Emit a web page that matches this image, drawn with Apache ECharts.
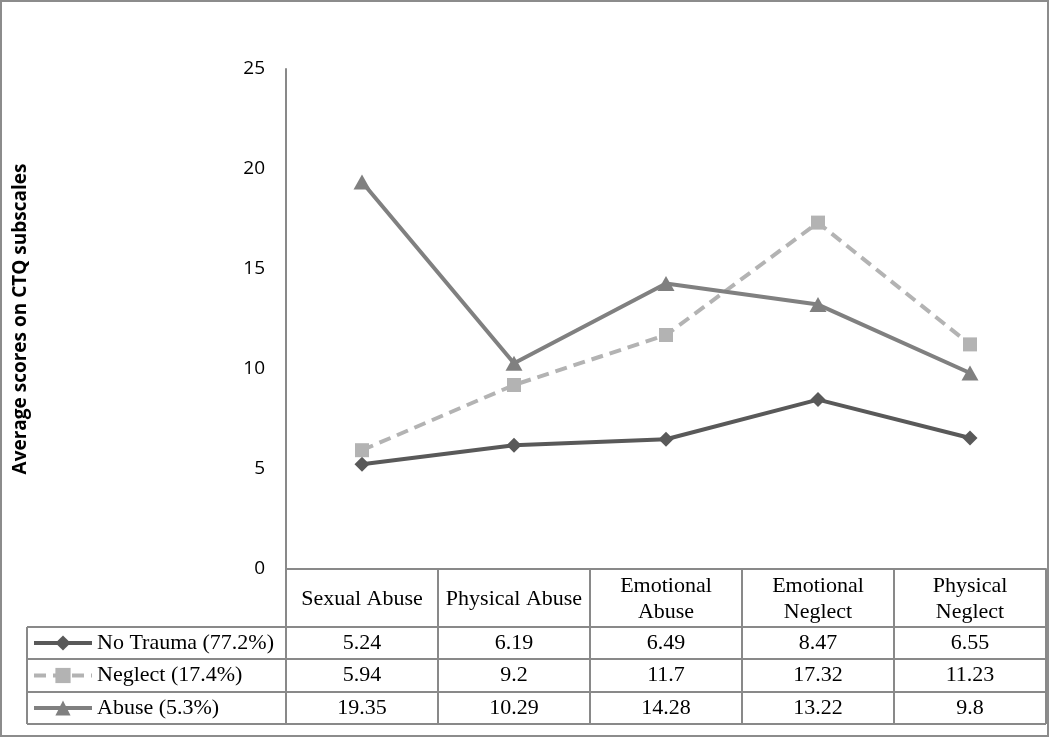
<!DOCTYPE html>
<html>
<head>
<meta charset="utf-8">
<script src="https://cdn.jsdelivr.net/npm/echarts@6/dist/echarts.min.js"></script>
<style>
  html, body { margin: 0; padding: 0; background: #fff; }
  #chart { width: 1050px; height: 738px; }
</style>
</head>
<body>
<div id="chart"></div>
<script>
// ---- data ----
var categories = ['Sexual Abuse', 'Physical Abuse', 'Emotional\nAbuse', 'Emotional\nNeglect', 'Physical\nNeglect'];
var seriesNames = ['No Trauma (77.2%)', 'Neglect (17.4%)', 'Abuse (5.3%)'];
var noTrauma = [5.24, 6.19, 6.49, 8.47, 6.55];
var neglect = [5.94, 9.2, 11.7, 17.32, 11.23];
var abuse = [19.35, 10.29, 14.28, 13.22, 9.8];
var yTicks = [0, 5, 10, 15, 20, 25];
var yTitle = 'Average scores on CTQ subscales';

// ---- layout ----
var GRID_L = 286, GRID_T = 69, GRID_W = 760, GRID_H = 500;
var AXIS_Y = GRID_T + GRID_H;           // 569
var HEADER_B = 627;
var ROW_LINES = [627, 659, 692, 724];
var TABLE_L = 27, TABLE_R = GRID_L + GRID_W;
var LINE_COLOR = '#898989';
var SERIF = '"Liberation Serif", "Times New Roman", serif';
var SANS = '"Open Sans", sans-serif';

var allValues = [noTrauma, neglect, abuse];
var colors = ['#595959', '#b3b3b3', '#808080'];
var symbols = ['diamond', 'rect', 'triangle'];
var symbolSizes = [[15, 15], [14, 14], [17, 15]];
var lineTypes = ['solid', [12, 7], 'solid'];

var rowCenters = [];
for (var i = 0; i < 3; i++) rowCenters.push((ROW_LINES[i] + ROW_LINES[i + 1]) / 2);

var xAxes = [{
  type: 'category',
  gridIndex: 0,
  data: categories,
  boundaryGap: true,
  position: 'bottom',
  axisLine: { show: true, lineStyle: { color: LINE_COLOR, width: 2 } },
  axisTick: { show: true, length: ROW_LINES[3] - AXIS_Y, lineStyle: { color: LINE_COLOR, width: 2 } },
  axisLabel: {
    margin: (AXIS_Y + HEADER_B) / 2 - AXIS_Y + 1,
    verticalAlign: 'middle',
    color: '#000',
    fontFamily: SERIF,
    fontSize: 22,
    lineHeight: 26,
    interval: 0
  },
  splitLine: { show: false }
}];
for (var r = 0; r < 3; r++) {
  xAxes.push({
    type: 'category',
    gridIndex: 0,
    position: 'bottom',
    offset: rowCenters[r] - AXIS_Y,
    data: allValues[r].map(function (v) { return String(v); }),
    boundaryGap: true,
    axisLine: { show: false },
    axisTick: { show: false },
    splitLine: { show: false },
    axisLabel: {
      margin: 0,
      verticalAlign: 'middle',
      color: '#000',
      fontFamily: SERIF,
      fontSize: 22,
      interval: 0
    }
  });
}

var series = [];
for (var s = 0; s < 3; s++) {
  series.push({
    name: seriesNames[s],
    type: 'line',
    xAxisIndex: 0,
    yAxisIndex: 0,
    data: allValues[s],
    symbol: symbols[s],
    symbolSize: symbolSizes[s],
    showSymbol: true,
    itemStyle: { color: colors[s] },
    lineStyle: { color: colors[s], width: 4, type: lineTypes[s] },
    emphasis: { disabled: true },
    z: 3 + (s === 2 ? 1 : 0)
  });
}

var legends = [];
for (var l = 0; l < 3; l++) {
  legends.push({
    data: [seriesNames[l]],
    left: 32,
    top: rowCenters[l] - 11,
    padding: 0,
    itemWidth: 58,
    itemHeight: 19,
    itemGap: 6,
    selectedMode: false,
    lineStyle: { width: 4 },
    textStyle: { color: '#000', fontFamily: SERIF, fontSize: 22, lineHeight: 22 }
  });
}

var graphics = [
  { type: 'rect', shape: { x: 1, y: 1, width: 1047, height: 735 }, style: { fill: 'none', stroke: '#8c8c8c', lineWidth: 2 }, silent: true }
];
ROW_LINES.forEach(function (yy) {
  graphics.push({ type: 'line', shape: { x1: TABLE_L, y1: yy, x2: TABLE_R, y2: yy }, style: { stroke: LINE_COLOR, lineWidth: 2 }, silent: true });
});
graphics.push({ type: 'line', shape: { x1: TABLE_L, y1: ROW_LINES[0], x2: TABLE_L, y2: ROW_LINES[3] }, style: { stroke: LINE_COLOR, lineWidth: 2 }, silent: true });

var option = {
  animation: false,
  backgroundColor: '#fff',
  grid: { left: GRID_L, top: GRID_T, width: GRID_W, height: GRID_H, containLabel: false, outerBoundsMode: 'none' },
  xAxis: xAxes,
  yAxis: {
    type: 'value',
    min: yTicks[0],
    max: yTicks[yTicks.length - 1],
    interval: yTicks[1] - yTicks[0],
    name: yTitle,
    nameLocation: 'middle',
    nameGap: GRID_L - 30,
    nameRotate: 90,
    nameTextStyle: { color: '#000', fontFamily: SANS, fontWeight: 'bold', fontSize: 19 },
    axisLine: { show: true, lineStyle: { color: LINE_COLOR, width: 2 } },
    axisTick: { show: false },
    splitLine: { show: false },
    axisLabel: { margin: 21, color: '#000', fontFamily: SANS, fontSize: 19 }
  },
  legend: legends,
  series: series,
  graphic: graphics
};

var chart = echarts.init(document.getElementById('chart'), null, { renderer: 'canvas' });
chart.setOption(option);
</script>
</body>
</html>
